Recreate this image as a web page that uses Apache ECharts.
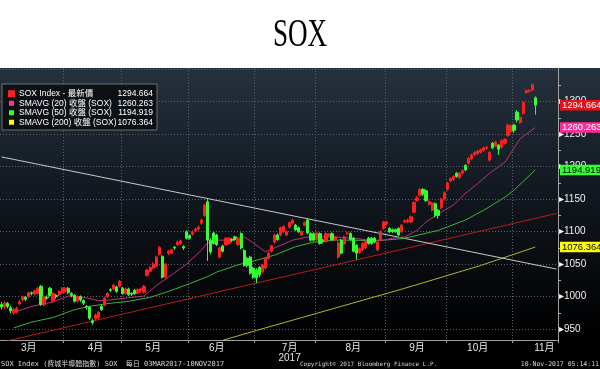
<!DOCTYPE html>
<html><head><meta charset="utf-8">
<script src="https://cdn.jsdelivr.net/npm/echarts@6/dist/echarts.min.js"></script>
<style>html,body{margin:0;padding:0;background:#fff}#c{width:600px;height:369px}</style>
</head><body><div id="c"></div>
<script>
// ---- data ----
const monthLabels   = ['3月','4月','5月','6月','7月\n2017','8月','9月','10月','11月'];
const monthLabelIdx = [9, 31, 50, 71, 95, 116, 137, 157, 179];
const monthStartIdx = [21, 40, 62, 84, 104, 127, 147, 169];
const totalSlots = 184; // 177 trading days 03MAR2017-10NOV2017 + empty space on the right

const opens = [
 988,984,990,983,975,976,989,995,999,1000,1006,1004,1005,1016,988,999,1013,993,1002,1003,1006,
 1008,1013,1005,1002,993,1000,994,985,984,963,966,967,985,987,1000,1011,1012,1015,1016,
 1013,1005,1012,1005,1010,1006,1009,1007,1033,1039,1044,1047,1065,1062,1030,1067,1067,1076,1080,1082,1077,1100,
 1094,1096,1101,1104,1113,1125,1146,1087,1098,1095,1061,1078,1080,1082,1088,1092,1080,1097,1071,1059,1061,1044,
 1041,1045,1038,1044,1059,1070,1084,1095,1095,1100,1095,1107,1113,1110,1106,1095,1110,1118,1097,1097,
 1088,1097,1087,1085,1094,1097,1088,1061,1087,1081,1097,1097,1090,1079,1068,1072,1075,1090,1090,1090,1072,1088,1105,
 1112,1105,1103,1103,1105,1100,1115,1115,1115,1130,1148,1156,1165,1163,1142,1133,1143,1133,1137,1150,
 1165,1178,1180,1190,1183,1190,1202,1205,1212,1218,1220,1222,1225,1228,1210,1236,1232,1233,1230,1236,1248,1254,
 1264,1284,1268,1282,1314,1316,1318,1306
];
const closes = [
 984,990,985,978,980,982,992,1000,996,1006,1005,1009,1013,988,1000,998,1002,1005,1000,1008,1013,
 1013,1006,1002,993,1000,995,990,984,967,960,972,976,980,998,1005,1010,1018,1008,1024,
 1005,1012,1003,1004,1005,1011,1012,1016,1041,1045,1050,1061,1076,1030,1050,1070,1072,1075,1084,1086,1075,1090,
 1090,1100,1104,1107,1118,1141,1087,1069,1082,1080,1075,1070,1090,1090,1087,1088,1090,1075,1048,1048,1036,1030,
 1029,1034,1049,1059,1067,1078,1095,1088,1106,1108,1100,1114,1118,1103,1100,1100,1114,1098,1087,1087,
 1098,1082,1085,1097,1096,1088,1092,1083,1067,1092,1098,1088,1070,1067,1074,1082,1085,1082,1082,1084,1084,1100,1115,
 1115,1100,1100,1100,1095,1110,1117,1118,1123,1145,1152,1165,1158,1148,1146,1144,1125,1125,1150,1160,
 1175,1182,1185,1185,1190,1194,1195,1213,1218,1222,1224,1226,1229,1230,1222,1229,1238,1227,1240,1242,1264,1263,
 1256,1272,1276,1299,1317,1317,1326,1294.664
];
const lows = [
 980,981,982,974,972,974,987,993,993,998,1002,1002,1003,986,985,995,1000,991,997,1001,1004,
 1006,1004,999,991,991,992,987,980,964,957,963,965,978,985,998,1007,1010,1006,1014,
 1003,1003,1001,1001,1003,1004,1006,1005,1031,1037,1042,1045,1063,1028,1028,1064,1065,1072,1078,1080,1072,1088,
 1088,1094,1099,1102,1111,1123,1055,1065,1080,1078,1059,1068,1078,1080,1084,1086,1078,1073,1046,1045,1034,1027,
 1021,1030,1036,1042,1057,1068,1082,1086,1093,1098,1093,1105,1111,1101,1098,1093,1108,1096,1085,1085,
 1086,1080,1082,1083,1092,1086,1086,1058,1065,1079,1095,1086,1068,1057,1066,1070,1073,1080,1080,1082,1070,1086,1103,
 1110,1098,1098,1098,1093,1098,1113,1113,1113,1128,1146,1154,1155,1146,1140,1131,1122,1120,1135,1148,
 1163,1176,1178,1183,1181,1188,1193,1203,1210,1216,1218,1220,1223,1226,1208,1227,1230,1218,1228,1234,1246,1252,
 1252,1268,1266,1280,1312,1314,1316,1280
];
const highs = [
 992,993,992,986,983,985,995,1002,1001,1008,1008,1011,1015,1018,1002,1002,1015,1007,1004,1010,1015,
 1015,1015,1007,1004,1002,1002,996,987,986,966,974,978,988,1000,1007,1013,1020,1017,1026,
 1015,1014,1014,1007,1012,1013,1014,1018,1043,1047,1053,1063,1078,1064,1052,1072,1074,1078,1086,1088,1079,1102,
 1096,1102,1106,1110,1120,1143,1150,1090,1100,1097,1077,1080,1092,1092,1090,1094,1092,1099,1073,1061,1063,1046,
 1044,1047,1051,1061,1069,1080,1097,1097,1108,1110,1102,1116,1120,1112,1108,1102,1116,1120,1099,1099,
 1100,1099,1089,1099,1098,1099,1094,1085,1089,1094,1100,1099,1092,1081,1076,1084,1087,1092,1092,1092,1086,1102,1117,
 1117,1107,1105,1105,1107,1112,1119,1120,1125,1147,1155,1167,1167,1165,1148,1146,1145,1135,1152,1162,
 1177,1184,1187,1192,1192,1196,1204,1215,1220,1224,1226,1228,1231,1232,1224,1238,1240,1235,1242,1244,1266,1265,
 1266,1287,1278,1301,1319,1319,1328,1308
];
// moving averages as [day index, value]
const sma20 = [[4,976],[10,985],[17,992],[22,1001],[26,1000],[32,994],[36,995],[41,998],[47,1001],[51,1017],[55,1030],[61,1050],[66,1072],[68,1083],[71,1087],[76,1087],[80,1092],[83,1083],[87,1069],[90,1075],[96,1087],[101,1092],[106,1092],[110,1092],[116,1090],[121,1087],[126,1087],[129,1090],[133,1092],[137,1102],[140,1115],[145,1130],[149,1141],[153,1159],[157,1174],[161,1190],[166,1207],[171,1243],[176,1260.263]];
const sma50 = [[4,952],[10,961],[17,968],[24,980],[30,986],[36,990],[42,993],[49,999],[55,1008],[62,1020],[68,1031],[71,1038],[78,1049],[84,1056],[90,1064],[97,1077],[103,1084],[110,1087],[116,1087],[123,1086],[129,1088],[133,1090],[144,1102],[153,1118],[159,1133],[166,1153],[169,1164],[176,1194.919]];
const sma200 = [[73,933],[84,948],[133,1013],[158,1048],[176,1076.364]];
const trendRed   = [[0,930],[183,1128]];
const trendWhite = [[0,1215],[183,1042.5]];
const lastValues = ['1294.664','1260.263','1194.919','1076.364'];
const seriesNames = ['SOX Index - 最新價','SMAVG (20) 收盤 (SOX)','SMAVG (50) 收盤 (SOX)','SMAVG (200) 收盤 (SOX)'];
const footerLeft = 'SOX Index (費城半導體指數) SOX  每日 03MAR2017-10NOV2017';
const footerMid = 'Copyright© 2017 Bloomberg Finance L.P.';
const footerRight = '10-Nov-2017 05:14:11';

// ---- chart ----
const FONT = '"Liberation Sans", "Noto Sans CJK TC", sans-serif';
const categories = Array.from({length: totalSlots}, (_, i) => 'd' + i);
const candles = opens.map((o, i) => [o, closes[i], lows[i], highs[i]]);
const valueOf = {};
seriesNames.forEach((n, i) => valueOf[n] = lastValues[i]);

function tag(val, bg, fg) {
  return {
    silent: true, symbol: 'none', animation: false,
    lineStyle: {width: 0, opacity: 0},
    label: {show: true, position: 'end', distance: 2, formatter: String(val),
      backgroundColor: bg, color: fg, fontSize: 9.5, fontFamily: FONT,
      padding: [1, 2, 0, 2], opacity: 1},
    data: [{yAxis: val}]
  };
}

const chart = echarts.init(document.getElementById('c'), null, {renderer: 'canvas'});
chart.setOption({
  animation: false,
  backgroundColor: new echarts.graphic.LinearGradient(0, 0, 0, 1, [
    {offset: 0, color: '#ffffff'}, {offset: 0.1840, color: '#ffffff'},
    {offset: 0.1845, color: '#25313e'}, {offset: 0.55, color: '#10161d'},
    {offset: 0.90, color: '#000000'}, {offset: 1, color: '#000000'}]),
  textStyle: {fontFamily: FONT},
  grid: {left: -13, right: 42, top: 68, bottom: 29},
  legend: {
    left: 2, top: 84, orient: 'vertical', icon: 'rect',
    backgroundColor: 'rgba(8,12,16,0.82)', borderColor: '#6f6f6f', borderWidth: 1,
    padding: [5, 4, 3, 6], itemGap: 0, itemWidth: 5, itemHeight: 5,
    textStyle: {color: '#ffffff', fontSize: 8.5, lineHeight: 9.5, fontFamily: FONT,
      rich: {n: {width: 100, fontSize: 8.5, color: '#fff', fontFamily: FONT},
             v: {width: 34, align: 'right', fontSize: 8.5, color: '#fff', fontFamily: FONT}}},
    formatter: name => '{n|' + name + '}{v|' + valueOf[name] + '}',
    data: [
      {name: seriesNames[0], itemStyle: {color: '#ff1f1f'}},
      {name: seriesNames[1], itemStyle: {color: '#ff3399'}},
      {name: seriesNames[2], itemStyle: {color: '#33ff33'}},
      {name: seriesNames[3], itemStyle: {color: '#ffff00'}}
    ]
  },
  xAxis: {
    type: 'category', data: categories, boundaryGap: true,
    axisLine: {lineStyle: {color: '#a0a0a0', width: 1}},
    axisTick: {show: true, interval: i => monthStartIdx.includes(i), length: 3, lineStyle: {color: '#a0a0a0'}},
    axisLabel: {interval: i => monthLabelIdx.includes(i),
      formatter: (v, i) => { const k = monthLabelIdx.indexOf(i); return k >= 0 ? monthLabels[k] : ''; },
      color: '#e8e8e8', fontSize: 10, lineHeight: 10, margin: 3, fontFamily: FONT},
    splitLine: {show: true, interval: i => monthStartIdx.includes(i),
      lineStyle: {color: '#58626c', width: 1, type: [1, 2]}}
  },
  yAxis: {
    type: 'value', position: 'right', min: 933.4, max: 1351.8, splitNumber: 8,
    axisLine: {show: true, lineStyle: {color: '#a0a0a0'}},
    axisTick: {show: false},
    minorTick: {show: true, splitNumber: 2, length: 3, lineStyle: {color: '#b0b0b0'}},
    axisLabel: {formatter: v => (v < 1340 && Math.abs(v / 50 - Math.round(v / 50)) < 1e-6 ? '▸' + v : ''),
      color: '#f0f0f0', fontSize: 10, margin: 1, fontFamily: FONT},
    splitLine: {show: true, showMinLine: false, showMaxLine: false,
      lineStyle: {color: '#58626c', width: 1, type: [1, 2]}}
  },
  series: [
    {name: seriesNames[3], type: 'line', data: sma200, showSymbol: false, z: 3,
      lineStyle: {color: '#b4b42a', width: 1}, itemStyle: {color: '#ffff00'},
      markLine: tag(1076.364, '#ffff00', '#000')},
    {name: 'trendRed', type: 'line', data: trendRed, showSymbol: false, z: 3,
      lineStyle: {color: '#b81c1c', width: 1}},
    {name: 'trendWhite', type: 'line', data: trendWhite, showSymbol: false, z: 3,
      lineStyle: {color: '#c8c8c8', width: 1}},
    {name: seriesNames[2], type: 'line', data: sma50, showSymbol: false, z: 3,
      lineStyle: {color: '#3fae3f', width: 1}, itemStyle: {color: '#33ff33'},
      markLine: tag(1194.919, '#33ff33', '#000')},
    {name: seriesNames[1], type: 'line', data: sma20, showSymbol: false, z: 3,
      lineStyle: {color: '#b8347a', width: 1}, itemStyle: {color: '#ff3399'},
      markLine: tag(1260.263, '#ff2d96', '#fff')},
    {name: seriesNames[0], type: 'candlestick', data: candles, z: 4,
      barWidth: '88%',
      itemStyle: {color: '#ff1f1f', color0: '#33ff33', borderColor: '#ff1f1f', borderColor0: '#33ff33', borderWidth: 1},
      markLine: tag(1294.664, '#e8111b', '#fff')}
  ],
  graphic: [
    {type: 'text', x: 300, y: 35, scaleX: 0.66, scaleY: 1,
      style: {text: 'SOX', fill: '#000', font: '41px "Liberation Serif", serif', align: 'center', verticalAlign: 'middle'}},
    {type: 'text', x: 1, y: 364,
      style: {text: footerLeft, fill: '#d4d4d4', font: '7px "DejaVu Sans Mono", "Noto Sans CJK TC", monospace', align: 'left', verticalAlign: 'middle'}},
    {type: 'text', x: 300, y: 364,
      style: {text: footerMid, fill: '#d4d4d4', font: '6px "DejaVu Sans Mono", monospace', align: 'left', verticalAlign: 'middle'}},
    {type: 'text', x: 599, y: 364,
      style: {text: footerRight, fill: '#d4d4d4', font: '6.5px "DejaVu Sans Mono", monospace', align: 'right', verticalAlign: 'middle'}}
  ]
});
</script>
</body></html>
